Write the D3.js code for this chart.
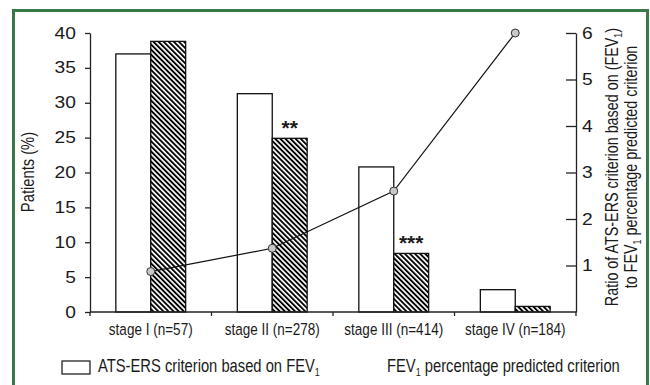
<!DOCTYPE html>
<html>
<head>
<meta charset="utf-8">
<script src="https://cdn.jsdelivr.net/npm/d3@7"></script>
<style>
  body { margin: 0; background: #fff; }
  text { font-family: "Liberation Sans", Arial, sans-serif; fill: #1a1a1a; }
</style>
</head>
<body>
<div id="chart"></div>
<script>
var CATEGORIES = ['stage I (n=57)', 'stage II (n=278)', 'stage III (n=414)', 'stage IV (n=184)'];
var ATS_VALUES = [37.0, 31.3, 20.8, 3.2];     // ATS-ERS criterion based on FEV1 (%)
var FEV_VALUES = [38.8, 24.9, 8.4, 0.8];      // FEV1 percentage predicted criterion (%)
var RATIO_VALUES = [0.87, 1.37, 2.6, 6.0];    // ratio, right axis
var SIGNIF = ['', '**', '***', ''];
var LEFT_TICKS = [0, 5, 10, 15, 20, 25, 30, 35, 40];
var RIGHT_TICKS = [1, 2, 3, 4, 5, 6];

var W = 650, H = 385;
var margin = {top: 33, right: 74, bottom: 73, left: 90};
var plotRight = W - margin.right, plotBottom = H - margin.bottom;
var NARROW = 0.82;   // no condensed font installed, squeeze Liberation Sans instead

var svg = d3.select("#chart")
    .append("svg")
    .attr("width", W)
    .attr("height", H);

// hatch for the FEV1 bars
svg.append("defs").append("pattern")
    .attr("id", "hatch")
    .attr("patternUnits", "userSpaceOnUse")
    .attr("width", 3.6)
    .attr("height", 10)
    .attr("patternTransform", "rotate(-45)")
    .call(function(p) {
        p.append("rect").attr("width", 3.6).attr("height", 10).attr("fill", "#fff");
        p.append("rect").attr("width", 1.9).attr("height", 10).attr("fill", "#000");
    });

// green frame
svg.append("rect")
    .attr("x", 13.5).attr("y", 10.5)
    .attr("width", 634).attr("height", 420)
    .attr("fill", "none")
    .attr("stroke", "#3a7845")
    .attr("stroke-width", 3);

var x = d3.scaleBand()
    .domain(CATEGORIES)
    .range([margin.left, plotRight]);
var xInner = d3.scaleBand()
    .domain(['ats', 'fev'])
    .range([0, x.bandwidth()])
    .paddingOuter(0.74);
var yLeft = d3.scaleLinear().domain([0, 40]).range([plotBottom, margin.top]);
var yRight = d3.scaleLinear().domain([0, 6]).range([plotBottom, margin.top]);

var rows = CATEGORIES.map(function(c, i) {
    return {cat: c, ats: ATS_VALUES[i], fev: FEV_VALUES[i], ratio: RATIO_VALUES[i], sig: SIGNIF[i]};
});

// bars
var groups = svg.append("g").selectAll("g")
    .data(rows)
    .enter().append("g")
    .attr("transform", function(d) { return "translate(" + x(d.cat) + ",0)"; });

groups.append("rect")
    .attr("x", xInner('ats'))
    .attr("y", function(d) { return yLeft(d.ats); })
    .attr("width", xInner.bandwidth())
    .attr("height", function(d) { return yLeft(0) - yLeft(d.ats); })
    .attr("fill", "#fff")
    .attr("stroke", "#111")
    .attr("stroke-width", 1.3);

groups.append("rect")
    .attr("x", xInner('fev'))
    .attr("y", function(d) { return yLeft(d.fev); })
    .attr("width", xInner.bandwidth())
    .attr("height", function(d) { return yLeft(0) - yLeft(d.fev); })
    .attr("fill", "url(#hatch)")
    .attr("stroke", "#111")
    .attr("stroke-width", 1.3);

groups.append("text")
    .attr("x", xInner('fev') + xInner.bandwidth() / 2)
    .attr("y", function(d) { return yLeft(d.fev) - 3; })
    .attr("text-anchor", "middle")
    .style("font-size", "21px")
    .style("font-weight", "bold")
    .text(function(d) { return d.sig; });

// left axis
var leftAxis = svg.append("g")
    .attr("transform", "translate(" + margin.left + ",0)")
    .call(d3.axisLeft(yLeft).tickValues(LEFT_TICKS).tickSize(5).tickSizeOuter(0).tickPadding(6.7));

// right axis
var rightAxis = svg.append("g")
    .attr("transform", "translate(" + plotRight + ",0)")
    .call(d3.axisRight(yRight).tickValues(RIGHT_TICKS).tickFormat(d3.format("d"))
        .tickSize(-10).tickSizeOuter(0).tickPadding(5));

[leftAxis, rightAxis].forEach(function(a) {
    a.selectAll("path, line").attr("stroke", "#222").attr("stroke-width", 1.3);
    a.selectAll("text")
        .attr("transform", "scale(1.2,1)")
        .style("font-family", "'Liberation Sans', Arial, sans-serif")
        .style("font-size", "16px")
        .attr("fill", "#1a1a1a");
});

// x axis: baseline, boundary ticks, labels
var xAxis = svg.append("g");
xAxis.append("line")
    .attr("x1", margin.left).attr("x2", plotRight)
    .attr("y1", plotBottom).attr("y2", plotBottom)
    .attr("stroke", "#222").attr("stroke-width", 1.5);
xAxis.selectAll(".bound")
    .data(CATEGORIES.map(function(c) { return x(c); }).concat([plotRight]))
    .enter().append("line")
    .attr("x1", function(d) { return d; }).attr("x2", function(d) { return d; })
    .attr("y1", plotBottom).attr("y2", plotBottom + 4)
    .attr("stroke", "#222").attr("stroke-width", 1.3);
xAxis.selectAll(".lbl")
    .data(CATEGORIES)
    .enter().append("text")
    .attr("transform", function(d) {
        return "translate(" + (x(d) + x.bandwidth() / 2) + "," + (plotBottom + 23) + ") scale(" + NARROW + ",1)";
    })
    .attr("text-anchor", "middle")
    .style("font-size", "16.5px")
    .text(function(d) { return d; });

// ratio line
var line = d3.line()
    .x(function(d) { return x(d.cat) + x.bandwidth() / 2; })
    .y(function(d) { return yRight(d.ratio); });
svg.append("path")
    .datum(rows)
    .attr("d", line)
    .attr("fill", "none")
    .attr("stroke", "#111")
    .attr("stroke-width", 1.2);
svg.selectAll(".pt")
    .data(rows)
    .enter().append("circle")
    .attr("cx", function(d) { return x(d.cat) + x.bandwidth() / 2; })
    .attr("cy", function(d) { return yRight(d.ratio); })
    .attr("r", 4)
    .attr("fill", "#c8c8c8")
    .attr("stroke", "#333")
    .attr("stroke-width", 1);

// axis titles
svg.append("text")
    .attr("transform", "translate(34,172) rotate(-90) scale(" + NARROW + ",1)")
    .attr("text-anchor", "middle")
    .style("font-size", "18px")
    .text("Patients (%)");

var rt = svg.append("text")
    .attr("transform", "translate(618,167) rotate(-90) scale(" + NARROW + ",1)")
    .attr("text-anchor", "middle")
    .style("font-size", "17.5px");
rt.append("tspan").text("Ratio of ATS-ERS criterion based on (FEV");
rt.append("tspan").attr("dy", 4).style("font-size", "11px").text("1");
rt.append("tspan").attr("dy", -4).text(")");

var rt2 = svg.append("text")
    .attr("transform", "translate(637,167) rotate(-90) scale(" + NARROW + ",1)")
    .attr("text-anchor", "middle")
    .style("font-size", "17.5px");
rt2.append("tspan").text("to FEV");
rt2.append("tspan").attr("dy", 4).style("font-size", "11px").text("1");
rt2.append("tspan").attr("dy", -4).text(" percentage predicted criterion");

// legend
svg.append("rect")
    .attr("x", 62).attr("y", 361)
    .attr("width", 28).attr("height", 13)
    .attr("fill", "#fff").attr("stroke", "#111").attr("stroke-width", 1.2);
var l1 = svg.append("text")
    .attr("transform", "translate(98,372) scale(" + NARROW + ",1)")
    .style("font-size", "18px");
l1.append("tspan").text("ATS-ERS criterion based on FEV");
l1.append("tspan").attr("dy", 4).style("font-size", "11px").text("1");

var l2 = svg.append("text")
    .attr("transform", "translate(387,372) scale(" + NARROW + ",1)")
    .style("font-size", "18px");
l2.append("tspan").text("FEV");
l2.append("tspan").attr("dy", 4).style("font-size", "11px").text("1");
l2.append("tspan").attr("dy", -4).text(" percentage predicted criterion");
</script>
</body>
</html>
